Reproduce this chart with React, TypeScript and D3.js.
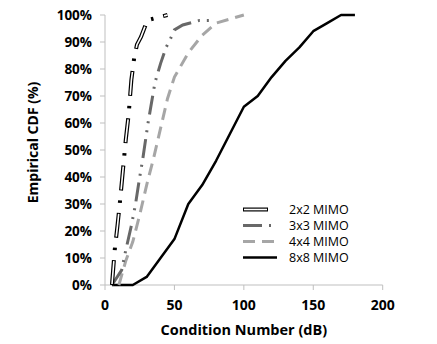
import React, { useEffect, useRef } from "react";
import * as d3 from "d3";

// Condition number (dB) vs empirical CDF (%)
const mimo2x2X = [5, 7, 9, 11, 13, 15, 17, 19, 21, 23, 26, 29, 30, 45];
const mimo2x2Y = [0, 13, 22, 32, 43, 54, 63, 76, 84, 89, 92, 96, 98, 100];

const mimo3x3X = [5, 12, 15, 19, 22, 25, 27, 29, 31, 33, 36, 40, 44, 47, 50, 56, 68, 75];
const mimo3x3Y = [0, 5.5, 13, 22, 30, 40, 46, 53, 60, 66, 75, 82, 88, 91, 94.5, 96.3, 98, 98];

const mimo4x4X = [10, 15, 20, 25, 30, 35, 40, 45, 50, 60, 70, 80, 90, 100];
const mimo4x4Y = [0, 9, 16, 26, 37, 47, 58, 69, 77, 86, 92.5, 97, 98.5, 100];

const mimo8x8X = [5, 20, 30, 40, 50, 60, 70, 80, 90, 100, 110, 120, 130, 140, 150, 160, 170, 180];
const mimo8x8Y = [0, 0, 3, 10, 17, 30, 37, 46, 56, 66, 70, 77, 83, 88, 94, 97, 100, 100];

const seriesNames = ["2x2 MIMO", "3x3 MIMO", "4x4 MIMO", "8x8 MIMO"];
const xTicks = [0, 50, 100, 150, 200];
const yTicks = [0, 10, 20, 30, 40, 50, 60, 70, 80, 90, 100];

const FONT = "'Open Sans', 'DejaVu Sans', sans-serif";

const App = () => {
  const svgRef = useRef<SVGSVGElement | null>(null);

  useEffect(() => {
    const width = 437;
    const height = 344;
    const svg = d3.select(svgRef.current).attr("width", width).attr("height", height);
    svg.selectAll("*").remove();

    const x = d3.scaleLinear().domain([0, 200]).range([105, 382.7]);
    const y = d3.scaleLinear().domain([0, 100]).range([285, 15]);

    const zip = (xs: number[], ys: number[]) => xs.map((v, i) => [v, ys[i]] as [number, number]);
    const line = d3.line<[number, number]>().x(d => x(d[0])).y(d => y(d[1]));

    // axes
    const axisColor = "#bfbfbf";
    svg.append("line").attr("x1", x(0)).attr("x2", x(200)).attr("y1", y(0)).attr("y2", y(0))
      .attr("stroke", axisColor).attr("stroke-width", 1);
    svg.append("line").attr("x1", x(0)).attr("x2", x(0)).attr("y1", y(0)).attr("y2", y(100))
      .attr("stroke", axisColor).attr("stroke-width", 1);

    yTicks.forEach(t => {
      svg.append("line").attr("x1", x(0) - 5).attr("x2", x(0)).attr("y1", y(t)).attr("y2", y(t))
        .attr("stroke", axisColor);
      svg.append("text").attr("x", 92).attr("y", y(t)).attr("dy", "0.36em")
        .attr("text-anchor", "end").attr("font-family", FONT).attr("font-weight", "bold")
        .attr("font-size", 13.5).attr("fill", "#000").text(`${t}%`);
    });
    xTicks.forEach(t => {
      svg.append("line").attr("x1", x(t)).attr("x2", x(t)).attr("y1", y(0)).attr("y2", y(0) + 5)
        .attr("stroke", axisColor);
      svg.append("text").attr("x", x(t)).attr("y", 310)
        .attr("text-anchor", "middle").attr("font-family", FONT).attr("font-weight", "bold")
        .attr("font-size", 14).attr("fill", "#000").text(t);
    });

    svg.append("text").attr("x", (x(0) + x(200)) / 2).attr("y", 335)
      .attr("text-anchor", "middle").attr("font-family", FONT).attr("font-weight", "bold")
      .attr("font-size", 14.5).text("Condition Number (dB)");
    svg.append("text").attr("transform", "translate(38,142.5) rotate(-90)")
      .attr("text-anchor", "middle").attr("font-family", FONT).attr("font-weight", "bold")
      .attr("font-size", 14).text("Empirical CDF (%)");

    // series styles
    const drawSeries = (g: d3.Selection<SVGGElement, unknown, null, undefined>, d: string, idx: number) => {
      if (idx === 0) {
        // hollow double line, long dash dot
        g.append("path").attr("d", d).attr("fill", "none").attr("stroke", "#000")
          .attr("stroke-width", 4).attr("stroke-dasharray", "25 10 2.5 10");
        g.append("path").attr("d", d).attr("fill", "none").attr("stroke", "#fff")
          .attr("stroke-width", 1.6).attr("stroke-dasharray", "23 24.5").attr("stroke-dashoffset", -1);
      } else if (idx === 1) {
        g.append("path").attr("d", d).attr("fill", "none").attr("stroke", "#686868")
          .attr("stroke-width", 3).attr("stroke-dasharray", "19 7 2 7 2 7");
      } else if (idx === 2) {
        g.append("path").attr("d", d).attr("fill", "none").attr("stroke", "#a6a6a6")
          .attr("stroke-width", 3).attr("stroke-dasharray", "12 7");
      } else {
        g.append("path").attr("d", d).attr("fill", "none").attr("stroke", "#000")
          .attr("stroke-width", 2.5).attr("stroke-linejoin", "round");
      }
    };

    const series = [
      zip(mimo2x2X, mimo2x2Y),
      zip(mimo3x3X, mimo3x3Y),
      zip(mimo4x4X, mimo4x4Y),
      zip(mimo8x8X, mimo8x8Y),
    ];
    [3, 2, 1, 0].forEach(i => {
      drawSeries(svg.append("g"), line(series[i]) as string, i);
    });

    // legend
    const legendRows = [209.5, 225.5, 241.5, 257.5];
    seriesNames.forEach((name, i) => {
      const ly = legendRows[i];
      drawSeries(svg.append("g"), `M243,${ly}L277,${ly}`, i);
      svg.append("text").attr("x", 289).attr("y", ly).attr("dy", "0.36em")
        .attr("font-family", FONT).attr("font-size", 12.5).attr("fill", "#000").text(name);
    });
  }, []);

  return (
    <svg ref={svgRef} style={{ position: "absolute", left: 0, top: 0, background: "#fff" }}></svg>
  );
};

export default App;
